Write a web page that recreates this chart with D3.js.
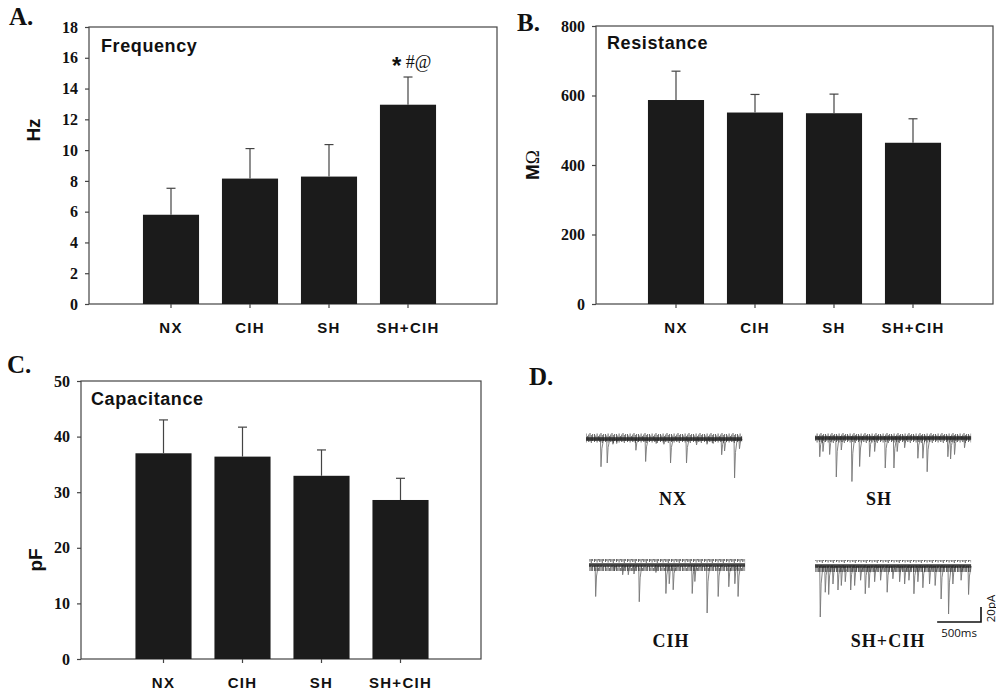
<!DOCTYPE html>
<html><head><meta charset="utf-8">
<script src="https://cdn.jsdelivr.net/npm/d3@7"></script>
<style>body{margin:0;background:#fff}svg{display:block}</style>
</head><body>
<svg id="c" width="996" height="695"></svg>
<script>
// ---------- data ----------
const groups = ["NX", "CIH", "SH", "SH+CIH"];
const freqMean = [5.8, 8.15, 8.28, 12.95];
const freqErr  = [1.72, 1.95, 2.08, 1.8];
const freqTicks = [0, 2, 4, 6, 8, 10, 12, 14, 16, 18];
const resMean = [587, 551, 549, 464];
const resErr  = [83, 52, 55, 69];
const resTicks = [0, 200, 400, 600, 800];
const capMean = [37.0, 36.4, 32.95, 28.6];
const capErr  = [6.0, 5.3, 4.65, 3.9];
const capTicks = [0, 10, 20, 30, 40, 50];

// event times (ms) and amplitudes (pA)
const nxTimes  = [171, 242, 307, 350, 569, 680, 800, 888, 964, 1146, 1260, 1380, 1450, 1547, 1580, 1694, 1750];
const nxAmps   = [37, 32, 7, 6, 15, 30, 6, 7, 32, 32, 8, 7, 6, 21, 16, 52, 13];
const shTimes  = [54, 91, 167, 243, 300, 421, 509, 623, 680, 801, 900, 937, 1022, 1173, 1230, 1279, 1515, 1546, 1591, 1705];
const shAmps   = [25, 18, 22, 52, 16, 58, 38, 25, 18, 40, 40, 18, 13, 27, 27, 45, 25, 28, 22, 13];
const cihTimes = [76, 290, 384, 448, 513, 573, 763, 877, 915, 960, 1177, 1207, 1347, 1473, 1594, 1663, 1700];
const cihAmps  = [42, 8, 13, 13, 12, 49, 10, 38, 25, 33, 38, 22, 64, 42, 29, 25, 42];
const shcihTimes = [60, 117, 156, 205, 262, 300, 345, 407, 452, 520, 573, 615, 680, 748, 823, 888, 965, 1022, 1071, 1128, 1173, 1230, 1306, 1370, 1438, 1523, 1572, 1666, 1751];
const shcihAmps  = [68, 35, 38, 24, 32, 26, 21, 32, 26, 19, 37, 29, 21, 19, 35, 17, 21, 24, 19, 37, 21, 29, 24, 26, 44, 64, 24, 19, 38];
const traceNames = ["NX", "SH", "CIH", "SH+CIH"];
const scaleBarMs = 500, scaleBarPA = 20;

// ---------- drawing ----------
const svg = d3.select("#c");
const serif = "'Liberation Serif','Times New Roman',serif";
const sans = "'Liberation Sans',Arial,sans-serif";
const barFill = "#1b1b1b", lineCol = "#444";

// texture for the noisy baseline band (pure styling)
const defs = svg.append("defs");
const pat = defs.append("pattern").attr("id", "noise").attr("patternUnits", "userSpaceOnUse")
  .attr("width", 11).attr("height", 12).attr("y", 0);
[[0.5, 2, 10], [1.8, 3.5, 9], [3.1, 1.5, 10.5], [4.4, 4, 8.5], [5.7, 2.5, 10], [7, 1, 9.5], [8.3, 3, 11], [9.6, 2, 9]]
  .forEach(s => pat.append("line").attr("x1", s[0]).attr("x2", s[0]).attr("y1", s[1]).attr("y2", s[2])
    .attr("stroke", "#333").attr("stroke-width", 1));

function panel(o) {
  const g = svg.append("g");
  const x = d3.scaleBand().domain(groups).range(o.band).paddingInner(0.29).paddingOuter(0.145);
  const y = d3.scaleLinear().domain([0, o.ticks[o.ticks.length - 1]]).range([o.bottom, o.top]);
  g.append("rect").attr("x", o.left).attr("y", o.top).attr("width", o.right - o.left)
    .attr("height", o.bottom - o.top).attr("fill", "none").attr("stroke", lineCol).attr("stroke-width", 1.2);
  g.selectAll(".bar").data(groups).join("rect")
    .attr("x", d => x(d)).attr("width", x.bandwidth())
    .attr("y", (d, i) => y(o.mean[i])).attr("height", (d, i) => y(0) - y(o.mean[i]))
    .attr("fill", barFill);
  const cx = d => x(d) + x.bandwidth() / 2;
  g.selectAll(".eb").data(groups).join("line")
    .attr("x1", cx).attr("x2", cx)
    .attr("y1", (d, i) => y(o.mean[i])).attr("y2", (d, i) => y(o.mean[i] + o.err[i]))
    .attr("stroke", lineCol).attr("stroke-width", 1.2);
  g.selectAll(".cap").data(groups).join("line")
    .attr("x1", d => cx(d) - 4.5).attr("x2", d => cx(d) + 4.5)
    .attr("y1", (d, i) => y(o.mean[i] + o.err[i])).attr("y2", (d, i) => y(o.mean[i] + o.err[i]))
    .attr("stroke", lineCol).attr("stroke-width", 1.2);
  const ya = g.append("g").attr("transform", `translate(${o.left},0)`)
    .call(d3.axisLeft(y).tickValues(o.ticks).tickSize(4).tickPadding(7).tickFormat(d3.format("d")));
  ya.select(".domain").remove();
  ya.selectAll("line").attr("stroke", lineCol).attr("stroke-width", 1.2);
  ya.selectAll("text").attr("font-family", serif).attr("font-weight", "bold").attr("font-size", 16).attr("fill", "#111");
  const xa = g.append("g").attr("transform", `translate(0,${o.bottom})`)
    .call(d3.axisBottom(x).tickSize(4).tickPadding(14));
  xa.select(".domain").remove();
  xa.selectAll("line").attr("stroke", lineCol).attr("stroke-width", 1.2);
  xa.selectAll("text").attr("font-family", sans).attr("font-weight", "bold").attr("font-size", 15)
    .attr("letter-spacing", 1.3).attr("fill", "#111");
  g.append("text").attr("x", o.left + o.titleDx).attr("y", o.top + o.titleDy).text(o.title)
    .attr("font-family", sans).attr("font-weight", "bold").attr("font-size", 18).attr("letter-spacing", 0.6).attr("fill", "#111");
  g.append("text").attr("x", o.letterX).attr("y", o.letterY).text(o.letter)
    .attr("font-family", serif).attr("font-weight", "bold").attr("font-size", 25).attr("fill", "#111");
  const yl = g.append("text").attr("transform", `translate(${o.ylX},${o.ylY}) rotate(-90)`)
    .attr("text-anchor", "middle").attr("dominant-baseline", "central")
    .attr("font-family", sans).attr("font-weight", "bold").attr("font-size", 19).attr("fill", "#111");
  if (o.ylabel === "MΩ") {
    yl.append("tspan").text("M");
    yl.append("tspan").text("Ω").attr("font-family", serif).attr("font-weight", "normal");
  } else yl.text(o.ylabel);
  return { g, x, y };
}

const A = panel({ left: 89, right: 497, top: 27, bottom: 304, band: [131.5, 447.5],
  mean: freqMean, err: freqErr, ticks: freqTicks, title: "Frequency", titleDx: 12, titleDy: 25,
  letter: "A.", letterX: 9, letterY: 25, ylabel: "Hz", ylX: 33, ylY: 130 });
const B = panel({ left: 596, right: 993, top: 26, bottom: 304, band: [636.5, 952.5],
  mean: resMean, err: resErr, ticks: resTicks, title: "Resistance", titleDx: 11, titleDy: 23,
  letter: "B.", letterX: 517, letterY: 31, ylabel: "MΩ", ylX: 532, ylY: 165 });
const C = panel({ left: 81, right: 481, top: 381, bottom: 659, band: [124, 440],
  mean: capMean, err: capErr, ticks: capTicks, title: "Capacitance", titleDx: 10, titleDy: 24,
  letter: "C.", letterX: 7, letterY: 373, ylabel: "pF", ylX: 35, ylY: 560 });

// significance marks on SH+CIH
{
  const cx = A.x("SH+CIH") + A.x.bandwidth() / 2;
  const ty = A.y(freqMean[3] + freqErr[3]) - 9;
  const t = A.g.append("text").attr("x", cx - 16).attr("y", ty).attr("fill", "#111");
  t.append("tspan").text("*").attr("font-family", sans).attr("font-weight", "bold").attr("font-size", 24).attr("dy", 6);
  t.append("tspan").text(" #@").attr("font-family", serif).attr("font-size", 18).attr("dy", -6);
}

// ---------- panel D: example traces ----------
svg.append("text").attr("x", 529).attr("y", 385).text("D.")
  .attr("font-family", serif).attr("font-weight", "bold").attr("font-size", 25).attr("fill", "#111");

const traces = [
  { name: traceNames[0], times: nxTimes, amps: nxAmps, x0: 586, base: 439, lx: 673, ly: 505 },
  { name: traceNames[1], times: shTimes, amps: shAmps, x0: 815, base: 438, lx: 879, ly: 505 },
  { name: traceNames[2], times: cihTimes, amps: cihAmps, x0: 589, base: 565, lx: 671, ly: 647 },
  { name: traceNames[3], times: shcihTimes, amps: shcihAmps, x0: 815, base: 566, lx: 888, ly: 647 }
];
const dur = 1780, pxPerMs = 0.0877, pxPerPA = 0.75;
traces.forEach(tr => {
  const tx = d3.scaleLinear().domain([0, dur]).range([tr.x0, tr.x0 + dur * pxPerMs]);
  const ty = d3.scaleLinear().domain([0, 80]).range([tr.base, tr.base + 80 * pxPerPA]);
  const g = svg.append("g");
  const line = d3.line().x(d => tx(d[0])).y(d => ty(d[1]));
  g.selectAll("path.ev").data(tr.times.map((t, i) => [t, tr.amps[i]])).join("path")
    .attr("d", d => line([[d[0] - 6, 0], [d[0], d[1]], [d[0] + 10, d[1] * 0.35], [d[0] + 30, 0]]))
    .attr("fill", "none").attr("stroke", "#777").attr("stroke-width", 1).attr("opacity", 0.9);
  // noisy baseline band
  g.append("rect").attr("x", tx(0)).attr("width", tx(dur) - tx(0)).attr("y", ty(0) - 6).attr("height", 12)
    .attr("fill", "url(#noise)").attr("opacity", 0.75);
  g.append("rect").attr("x", tx(0)).attr("width", tx(dur) - tx(0)).attr("y", ty(0) - 1.8).attr("height", 3.6)
    .attr("fill", "#222").attr("opacity", 0.85);
  g.append("text").attr("x", tr.lx).attr("y", tr.ly).attr("text-anchor", "middle").text(tr.name)
    .attr("font-family", serif).attr("font-weight", "bold").attr("font-size", 18).attr("letter-spacing", 1).attr("fill", "#111");
});

// scale bar (uses same ms/pA conversion as traces)
{
  const xEnd = 981, yBar = 622;
  const wBar = scaleBarMs * pxPerMs, hBar = scaleBarPA * pxPerPA;
  const g = svg.append("g");
  g.append("path").attr("d", `M${xEnd - wBar},${yBar}H${xEnd}V${yBar - hBar}`)
    .attr("fill", "none").attr("stroke", "#111").attr("stroke-width", 1.6);
  g.append("text").attr("x", xEnd - wBar / 2).attr("y", yBar + 14.5).attr("text-anchor", "middle").text("500ms")
    .attr("font-family", "'Open Sans',sans-serif").attr("font-size", 11.5).attr("fill", "#111");
  g.append("text").attr("transform", `translate(${xEnd + 9},${yBar - hBar / 2 - 6}) rotate(-90)`)
    .attr("text-anchor", "middle").attr("dominant-baseline", "central").text("20pA")
    .attr("font-family", "'Open Sans',sans-serif").attr("font-size", 11.5).attr("fill", "#111");
}
</script>
</body></html>
